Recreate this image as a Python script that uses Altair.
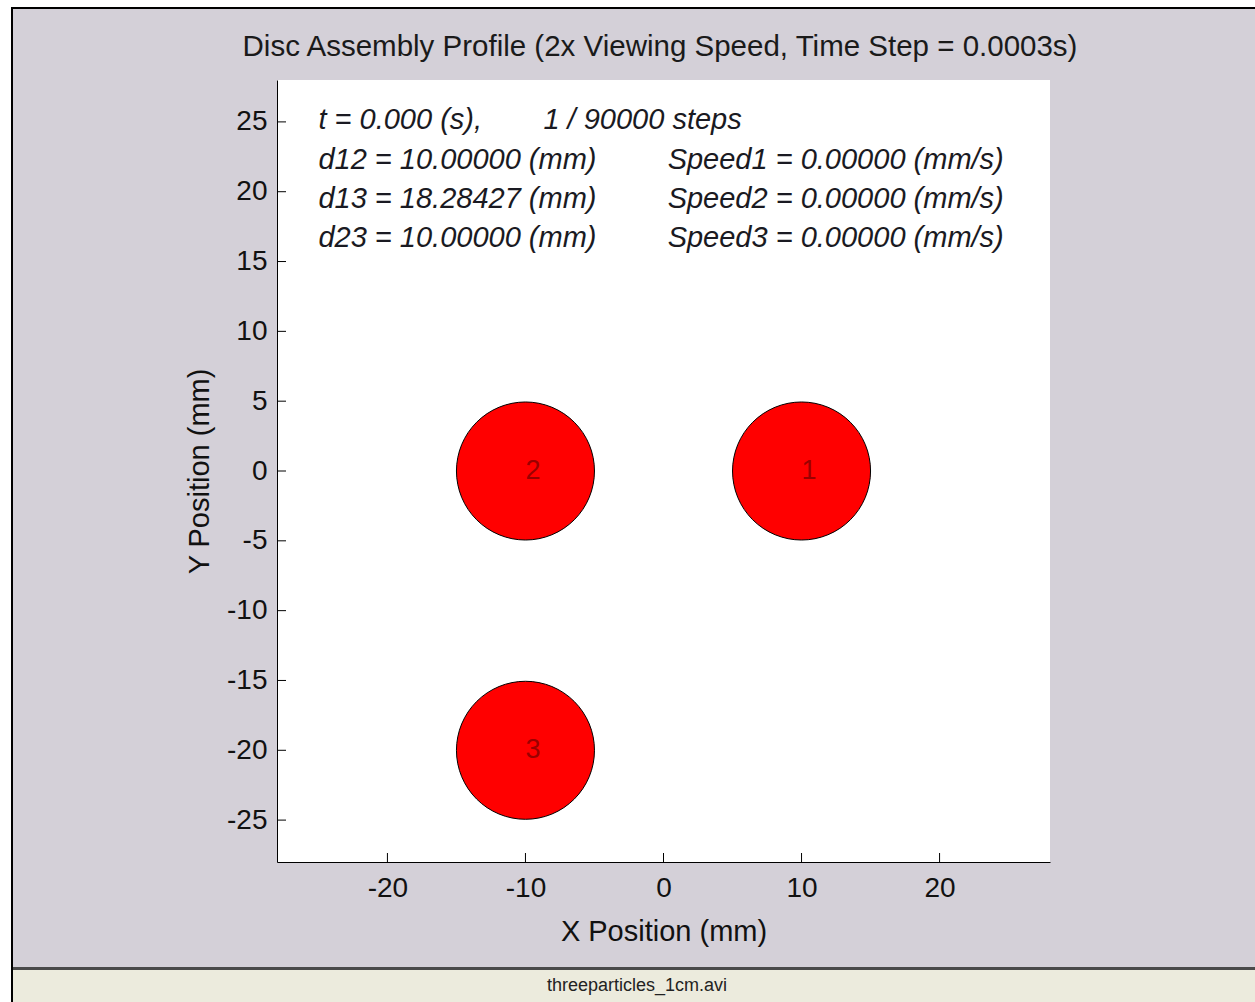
import altair as alt
import pandas as pd

# ---------------- data ----------------
disc_id = ["1", "2", "3"]
disc_x = [10.0, -10.0, -10.0]
disc_y = [0.0, 0.0, -20.0]
disc_radius = 5.0  # mm

info_left = ["t = 0.000 (s),", "d12 = 10.00000 (mm)", "d13 = 18.28427 (mm)", "d23 = 10.00000 (mm)"]
info_left_x = [-25.0, -25.0, -25.0, -25.0]
info_right = ["1 / 90000 steps", "Speed1 = 0.00000 (mm/s)", "Speed2 = 0.00000 (mm/s)", "Speed3 = 0.00000 (mm/s)"]
info_right_x = [-8.7, 0.3, 0.3, 0.3]
info_y = [25.1, 22.3, 19.5, 16.7]

x_ticks = [-20, -10, 0, 10, 20]
y_ticks = [-25, -20, -15, -10, -5, 0, 5, 10, 15, 20, 25]
x_domain = [-28, 28]
y_domain = [-28, 28]

title_text = "Disc Assembly Profile (2x Viewing Speed, Time Step = 0.0003s)"
caption_text = "threeparticles_1cm.avi"

# ---------------- layout ----------------
W, H = 773, 782
PAD_L, PAD_T = 277, 80
TOTAL_W, TOTAL_H = 1255, 1002
FONT = "Liberation Sans, Arial, sans-serif"

px_per_unit = W / (x_domain[1] - x_domain[0])
disc_size = (2 * disc_radius * px_per_unit) ** 2

xs = alt.Scale(domain=x_domain, nice=False, zero=False)
ys = alt.Scale(domain=y_domain, nice=False, zero=False)
x_axis = alt.Axis(values=x_ticks, labelPadding=12, titlePadding=15, zindex=1,
                  labelExpr="datum.value + ''")
y_axis = alt.Axis(values=y_ticks, labelPadding=10, titlePadding=12, zindex=1,
                  labelExpr="datum.value + ''")
X = alt.X("x:Q", scale=xs, title="X Position (mm)", axis=x_axis)
Y = alt.Y("y:Q", scale=ys, title="Y Position (mm)", axis=y_axis)

discs = pd.DataFrame({"id": disc_id, "x": disc_x, "y": disc_y})
info_l = pd.DataFrame({"txt": info_left, "x": info_left_x, "y": info_y})
info_r = pd.DataFrame({"txt": info_right, "x": info_right_x, "y": info_y})
xt = pd.DataFrame({"x": x_ticks})
yt = pd.DataFrame({"y": y_ticks})
one = pd.DataFrame({"k": [0]})

disc_layer = alt.Chart(discs).mark_point(
    shape="circle", filled=True, fill="#ff0000", stroke="#000000",
    strokeWidth=1, opacity=1, size=disc_size
).encode(x=X, y=Y)

disc_labels = alt.Chart(discs).mark_text(
    align="left", baseline="middle", fontSize=27, font=FONT, color="#9a0000"
).encode(x=X, y=Y, text="id:N")

info_left_layer = alt.Chart(info_l).mark_text(
    align="left", baseline="middle", fontSize=29, font=FONT, fontStyle="italic", color="#1a1a22"
).encode(x=X, y=Y, text="txt:N")

info_right_layer = alt.Chart(info_r).mark_text(
    align="left", baseline="middle", fontSize=29, font=FONT, fontStyle="italic", color="#1a1a22"
).encode(x=X, y=Y, text="txt:N")

xtick_layer = alt.Chart(xt).mark_rule(color="#000000", strokeWidth=1).encode(
    x=X, y=alt.value(H), y2=alt.value(H - 9),
)
ytick_layer = alt.Chart(yt).mark_rule(color="#000000", strokeWidth=1).encode(
    y=Y, x=alt.value(0), x2=alt.value(9),
)


def rect(x0, x1, y0, y1, color):
    return alt.Chart(one).mark_rect(color=color, opacity=1).encode(
        x=alt.value(x0), x2=alt.value(x1), y=alt.value(y0), y2=alt.value(y1)
    )


R = TOTAL_W - PAD_L
B = TOTAL_H - PAD_T
frame = [
    rect(-PAD_L, R, -PAD_T, -73, "#ffffff"),      # white strip above frame
    rect(-PAD_L, -266, -PAD_T, B, "#ffffff"),     # white strip left of frame
    rect(-266, R, -73, -71, "#000000"),           # top frame line
    rect(-266, -264, -73, B, "#000000"),          # left frame line
    rect(-264, R, 889, B, "#ecebdd"),             # status strip
    rect(-264, R, 887, 890, "#4a4a4a"),           # strip separator
]

caption = alt.Chart(one).mark_text(
    align="center", baseline="middle", fontSize=18, font=FONT, color="#222222"
).encode(x=alt.value(637 - PAD_L), y=alt.value(986 - PAD_T), text=alt.value(caption_text))

title = alt.Chart(one).mark_text(
    align="center", baseline="alphabetic", fontSize=29.5, font=FONT, color="#1a1a1a"
).encode(x=alt.value(660 - PAD_L), y=alt.value(56 - PAD_T), text=alt.value(title_text))

chart = alt.layer(
    *frame, caption, title, disc_layer, disc_labels, info_left_layer, info_right_layer,
    xtick_layer, ytick_layer
).properties(
    width=W, height=H,
    autosize=alt.AutoSizeParams(type="none"),
    padding={"left": PAD_L, "top": PAD_T, "right": TOTAL_W - PAD_L - W, "bottom": TOTAL_H - PAD_T - H},
    background="#d4d0d8",
).configure_view(fill="#ffffff", strokeWidth=0).configure_axis(
    domainColor="#000000", domainWidth=1, ticks=False, tickSize=0, grid=False,
    labelFont=FONT, labelFontSize=28, labelColor="#111111",
    titleFont=FONT, titleFontSize=29, titleFontWeight="normal", titleColor="#111111",
)

chart.save("out.html", embed_options={"renderer": "svg", "actions": False})
